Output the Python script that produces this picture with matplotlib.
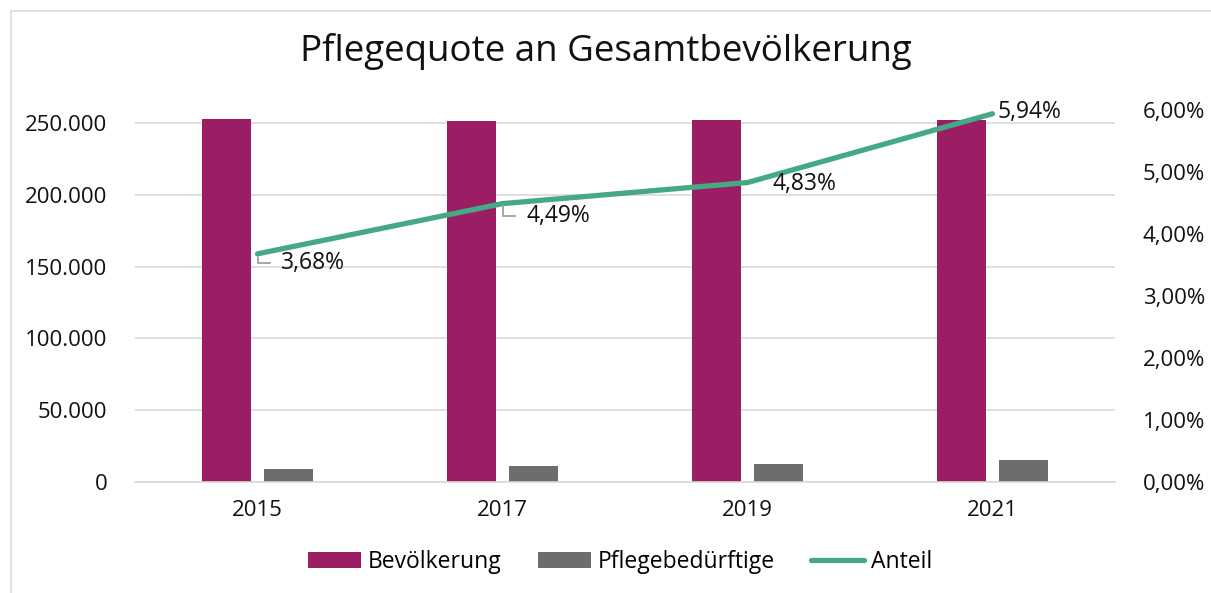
import matplotlib
matplotlib.use('Agg')
import matplotlib.pyplot as plt
from matplotlib.patches import Rectangle
from matplotlib.ticker import FuncFormatter
import numpy as np

# Daten
jahre = ['2015', '2017', '2019', '2021']
bevoelkerung = [253000, 251000, 252000, 252000]
pflegebeduerftige = [9300, 11300, 12200, 15000]
anteil = [0.0368, 0.0449, 0.0483, 0.0594]
anteil_labels = ['3,68%', '4,49%', '4,83%', '5,94%']

purple = '#9B1D63'
grey = '#6D6D6D'
green = '#46A986'
txt = '#111111'

plt.rcParams['font.family'] = ['Open Sans', 'DejaVu Sans']

fig = plt.figure(figsize=(12.11, 5.93), dpi=100)
ax = fig.add_axes([135 / 1211, 111 / 593, 980 / 1211, 372 / 593])
ax2 = ax.twinx()

x = np.arange(len(jahre))
w = 0.2
off = 0.128
ax.bar(x - off, bevoelkerung, w, color=purple, label='Bevölkerung', zorder=2)
ax.bar(x + off, pflegebeduerftige, w, color=grey, label='Pflegebedürftige', zorder=2)
ax2.plot(x, anteil, color=green, lw=3.8, solid_capstyle='round', label='Anteil', zorder=3)

ax.set_xlim(-0.5, 3.5)
ax.set_ylim(0, 259000)
ax2.set_ylim(0, 0.06)
ax.set_yticks(range(0, 250001, 50000))
ax2.set_yticks(np.arange(0, 0.0601, 0.01))
ax.set_xticks(x)
ax.set_xticklabels(jahre)

ax.yaxis.set_major_formatter(FuncFormatter(lambda v, p: f'{int(v):,}'.replace(',', '.')))
ax2.yaxis.set_major_formatter(FuncFormatter(lambda v, p: f'{v * 100:.2f}%'.replace('.', ',')))

ax.grid(axis='y', color='#D9D9D9', lw=1.2, zorder=0)
for a in (ax, ax2):
    for s in a.spines.values():
        s.set_visible(False)
    a.tick_params(length=0, labelsize=16, colors=txt)
ax.spines['bottom'].set_visible(True)
ax.spines['bottom'].set_color('#D9D9D9')
ax.spines['bottom'].set_linewidth(1.2)
ax.tick_params(axis='y', pad=20)
ax.tick_params(axis='x', pad=13)
ax2.tick_params(axis='y', pad=20)

# Datenbeschriftungen
offsets = [(17, -6.5), (17, -9), (18, -1), (3.6, 1)]
for i in range(len(jahre)):
    dx, dy = offsets[i]
    if i < 2:
        ax2.annotate(anteil_labels[i], xy=(x[i], anteil[i]), xytext=(dx, dy),
                     textcoords='offset points', ha='left', va='center', fontsize=16.5,
                     color=txt,
                     arrowprops=dict(arrowstyle='-', color='#A6A6A6', lw=1.4,
                                     connectionstyle='angle,angleA=0,angleB=90',
                                     shrinkA=6, shrinkB=2, relpos=(0, 0.5)))
    else:
        ax2.annotate(anteil_labels[i], xy=(x[i], anteil[i]), xytext=(dx, dy),
                     textcoords='offset points', ha='left', va='center', fontsize=16.5,
                     color=txt)

fig.suptitle('Pflegequote an Gesamtbevölkerung', fontsize=26.5, y=0.945, color=txt)

h1, l1 = ax.get_legend_handles_labels()
h2, l2 = ax2.get_legend_handles_labels()
fig.legend(h1 + h2, l1 + l2, loc='center', bbox_to_anchor=(0.512, 0.052), ncol=3,
           frameon=False, fontsize=16.5, handlelength=2.3, handleheight=0.65,
           columnspacing=1.6, handletextpad=0.3)

fig.patches.append(Rectangle((11 / 1211, -0.1), 1.2, (593 - 11) / 593 + 0.1,
                             transform=fig.transFigure, fill=False,
                             edgecolor='#D9D9D9', lw=1.2))

fig.savefig('out.png', dpi=100)
